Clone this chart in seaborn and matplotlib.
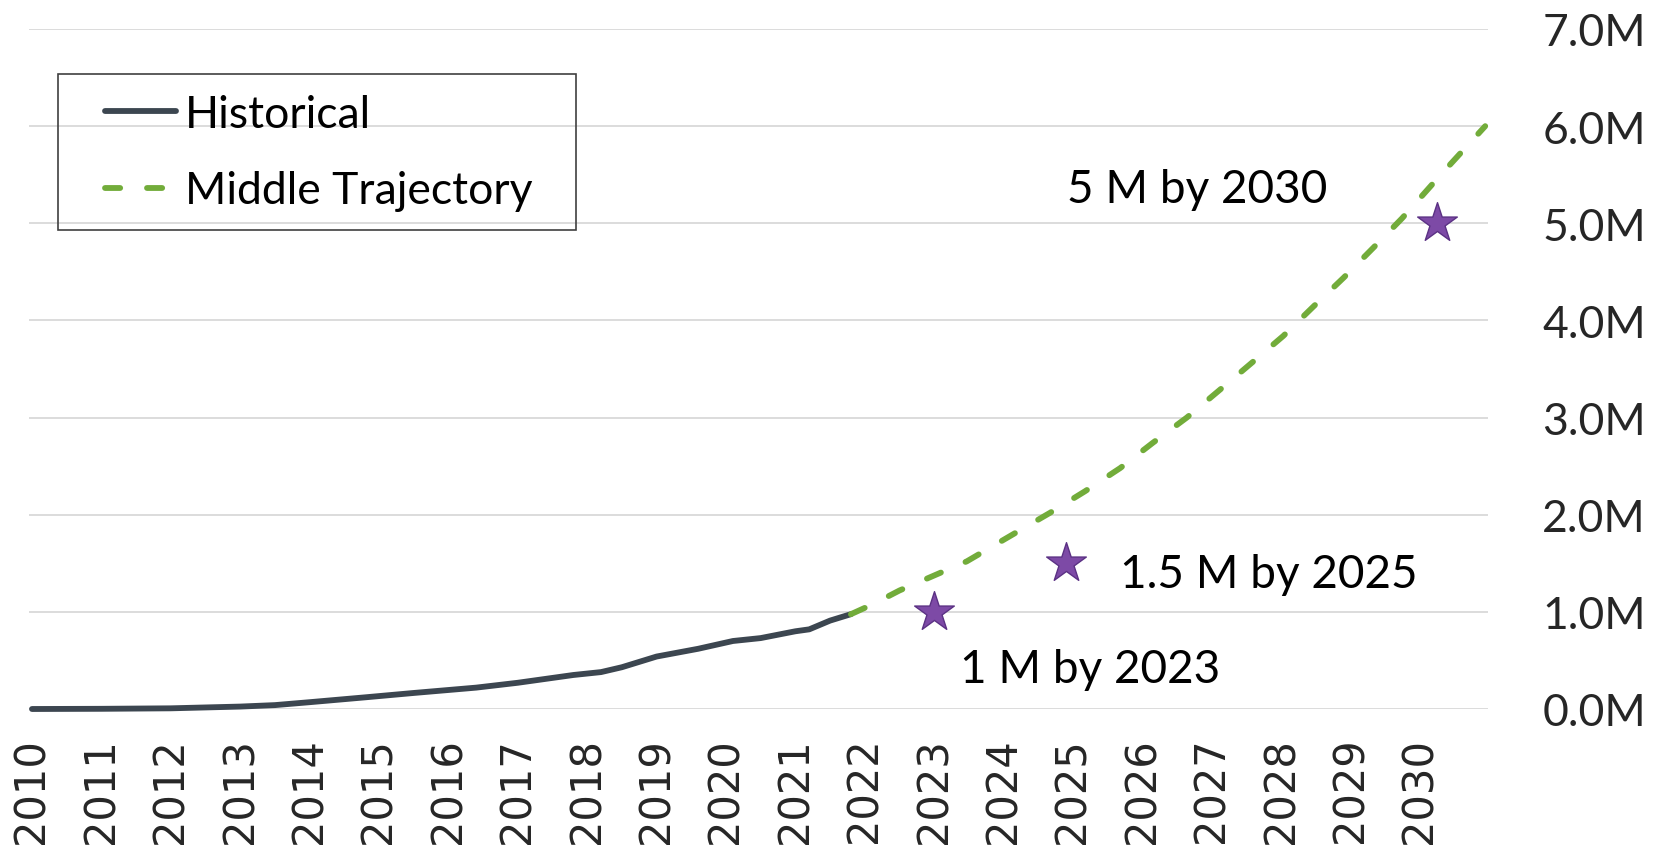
import matplotlib
matplotlib.use("Agg")
import matplotlib.pyplot as plt
from matplotlib.patches import Rectangle
import seaborn as sns
import numpy as np

# ---------------- data ----------------
hist_year = [2010.0, 2011.0, 2012.0, 2013.0, 2013.5, 2014.0, 2014.8, 2015.5, 2016.4,
             2017.0, 2017.8, 2018.2, 2018.5, 2019.0, 2019.6, 2020.1, 2020.5, 2021.0,
             2021.2, 2021.5, 2021.8]
hist_val = [0.0, 0.002, 0.007, 0.025, 0.04, 0.07, 0.12, 0.165, 0.22,
            0.27, 0.35, 0.38, 0.43, 0.54, 0.62, 0.70, 0.73, 0.80,
            0.82, 0.91, 0.976]

proj_year = [2021.8, 2022.12, 2022.5, 2023.05, 2023.47, 2024.14, 2024.67, 2025.17,
             2025.68, 2026.15, 2026.64, 2027.09, 2027.57, 2028.03, 2028.46, 2028.9,
             2029.33, 2029.74, 2030.3, 2030.94]
proj_val = [0.976, 1.08, 1.22, 1.39, 1.52, 1.80, 2.02, 2.24,
            2.48, 2.74, 3.0, 3.27, 3.56, 3.84, 4.14, 4.44,
            4.75, 5.05, 5.5, 6.0]

star_year = [2023.0, 2024.9, 2030.25]
star_val = [1.0, 1.5, 5.0]
star_labels = ["1 M by 2023", "1.5 M by 2025", "5 M by 2030"]

year_ticks = list(range(2010, 2031))
y_ticks = [0, 1, 2, 3, 4, 5, 6, 7]
y_tick_labels = ["0.0M", "1.0M", "2.0M", "3.0M", "4.0M", "5.0M", "6.0M", "7.0M"]

series_names = ["Historical", "Middle Trajectory"]

# ---------------- style ----------------
sns.set_theme(style="white")
plt.rcParams["font.family"] = ["Lato", "DejaVu Sans"]

W, H = 1657, 853
fig = plt.figure(figsize=(W / 100, H / 100), dpi=100)
fig.patch.set_facecolor("white")
ax = fig.add_axes([29 / W, (H - 710) / H, (1488 - 29) / W, (710 - 30) / H])
ax.set_facecolor("white")

hist_color = "#3C4650"
proj_color = "#72AC3A"
star_color = "#7D4AA6"
star_edge = "#5B3184"

sns.lineplot(x=hist_year, y=hist_val, color=hist_color, linewidth=4.2,
             label=series_names[0], ax=ax, sort=False)
sns.lineplot(x=proj_year, y=proj_val, color=proj_color, linewidth=4.2,
             label=series_names[1], ax=ax, sort=False)
lines = ax.get_lines()
lines[0].set_solid_capstyle("round")
lines[0].set_solid_joinstyle("round")
lines[1].set_linestyle((0, (2.6, 4.6)))
lines[1].set_dash_capstyle("round")
for ln in lines:
    ln.set_clip_on(False)
    ln.set_zorder(3)

sns.scatterplot(x=star_year, y=star_val, marker="*", s=900, color=star_color,
                edgecolor=star_edge, linewidth=1.0, zorder=5, ax=ax, legend=False,
                clip_on=False)

# annotations (baseline positions)
ann_pos = [(2023.37, 0.277), (2025.68, 1.254), (2024.91, 5.22)]
for (tx, ty), s in zip(ann_pos, star_labels):
    ax.text(tx, ty, s, fontsize=33, color="black", ha="left", va="baseline",
            family=["Lato", "DejaVu Sans"])

ax.set_xlim(2009.957, 2030.98)
ax.set_ylim(0, 7.0)

ax.set_xticks(year_ticks)
ax.set_xticklabels([str(y) for y in year_ticks], rotation=90,
                   family=["DejaVu Sans"], fontsize=30)
ax.set_yticks(y_ticks)
ax.set_yticklabels(y_tick_labels, fontsize=32, family=["Lato", "DejaVu Sans"])
ax.yaxis.tick_right()
ax.tick_params(axis="x", length=0, pad=20)
ax.tick_params(axis="y", length=0, pad=39)
for t in ax.get_xticklabels():
    t.set_va("top")

ax.grid(axis="y", color="#D9D9D9", linewidth=1.3)
ax.grid(axis="x", visible=False)
for sp in ax.spines.values():
    sp.set_visible(False)

# legend
leg = ax.legend(loc="center left",
                bbox_to_anchor=(105 / W, 1 - 153.4 / H),
                bbox_transform=fig.transFigure,
                frameon=False, fontsize=32, handlelength=1.6,
                handletextpad=0.2, labelspacing=0.8, borderpad=0,
                borderaxespad=0)
for t in leg.get_texts():
    t.set_color("black")
fig.add_artist(Rectangle((58 / W, 1 - 231 / H), (576 - 58) / W, (231 - 75) / H,
                         transform=fig.transFigure, fill=False,
                         edgecolor="#404040", linewidth=1.2, zorder=10))

fig.savefig("out.png", dpi=100, facecolor="white")
